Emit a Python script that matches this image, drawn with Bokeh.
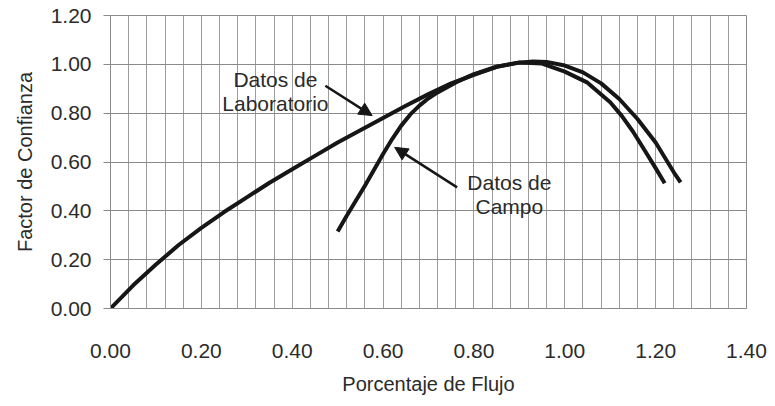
from bokeh.plotting import figure
from bokeh.models import FixedTicker, Range1d, Arrow, NormalHead, ColumnDataSource
from bokeh.core.properties import value
from bokeh.embed import file_html
from bokeh.resources import INLINE

# ---- data ----
lab_x = [0.00, 0.05, 0.10, 0.15, 0.20, 0.25, 0.30, 0.35, 0.40, 0.45, 0.50, 0.55,
         0.60, 0.65, 0.70, 0.75, 0.80, 0.85, 0.90, 0.95, 1.00, 1.05, 1.10, 1.125,
         1.15, 1.175, 1.20, 1.22]
lab_y = [0.00, 0.095, 0.18, 0.26, 0.33, 0.395, 0.455, 0.515, 0.57, 0.625, 0.68, 0.73,
         0.78, 0.83, 0.878, 0.922, 0.957, 0.99, 1.008, 1.003, 0.97, 0.925, 0.845, 0.79,
         0.725, 0.65, 0.575, 0.513]

campo_x = [0.50, 0.52, 0.56, 0.60, 0.62, 0.64, 0.66, 0.68, 0.70, 0.72, 0.76, 0.80,
           0.85, 0.90, 0.93, 0.96, 1.00, 1.04, 1.08, 1.12, 1.16, 1.20, 1.24, 1.255]
campo_y = [0.315, 0.38, 0.503, 0.633, 0.694, 0.749, 0.795, 0.831, 0.861, 0.885, 0.926, 0.96,
           0.99, 1.007, 1.012, 1.01, 0.995, 0.967, 0.922, 0.858, 0.776, 0.68, 0.558, 0.517]

x_ticks = [0.0, 0.2, 0.4, 0.6, 0.8, 1.0, 1.2, 1.4]
x_grid = [0.00, 0.04, 0.08, 0.12, 0.16, 0.20, 0.24, 0.28, 0.32, 0.36, 0.40, 0.44,
          0.48, 0.52, 0.56, 0.60, 0.64, 0.68, 0.72, 0.76, 0.80, 0.84, 0.88, 0.92,
          0.96, 1.00, 1.04, 1.08, 1.12, 1.16, 1.20, 1.24, 1.28, 1.32, 1.36, 1.40]
y_ticks = [0.0, 0.2, 0.4, 0.6, 0.8, 1.0, 1.2]

note_text = ["Datos de", "Laboratorio", "Datos de", "Campo"]
note_x = [0.363, 0.363, 0.878, 0.878]
note_y = [0.937, 0.839, 0.5155, 0.419]

arrow_x0 = [0.473, 0.763]
arrow_y0 = [0.912, 0.496]
arrow_x1 = [0.576, 0.6255]
arrow_y1 = [0.790, 0.660]

FONT = "Liberation Sans"
TXT = "#2b2b2b"
GRID = "#9c9c9c"
INK = "#161616"

p = figure(width=775, height=406,
           x_range=Range1d(0, 1.4), y_range=Range1d(0, 1.2),
           output_backend="svg", toolbar_location=None,
           min_border_left=110, min_border_right=29,
           min_border_top=15, min_border_bottom=98)

p.background_fill_color = "white"
p.border_fill_color = "white"
p.outline_line_color = "#8a8a8a"
p.outline_line_width = 1

# x axis
p.xaxis.ticker = FixedTicker(ticks=x_ticks, minor_ticks=x_grid)
p.xaxis.major_label_overrides = {t: f"{t:.2f}" for t in x_ticks}
p.xaxis.major_tick_out = 0
p.xaxis.major_tick_in = 0
p.xaxis.minor_tick_out = 0
p.xaxis.minor_tick_in = 0
p.xaxis.axis_line_color = "#8a8a8a"
p.xaxis.major_label_standoff = 35
p.xaxis.axis_label = "Porcentaje de Flujo"
p.xaxis.axis_label_standoff = 12

# y axis
p.yaxis.ticker = FixedTicker(ticks=y_ticks)
p.yaxis.major_label_overrides = {t: f"{t:.2f}" for t in y_ticks}
p.yaxis.major_tick_out = 7
p.yaxis.major_tick_in = 0
p.yaxis.minor_tick_out = 0
p.yaxis.minor_tick_in = 0
p.yaxis.major_tick_line_color = "#8a8a8a"
p.yaxis.axis_line_color = "#8a8a8a"
p.yaxis.major_label_standoff = 12
p.yaxis.axis_label = "Factor de Confianza"
p.yaxis.axis_label_standoff = 12

for ax in (p.xaxis, p.yaxis):
    ax.major_label_text_font = FONT
    ax.major_label_text_font_size = "21px"
    ax.major_label_text_color = TXT
    ax.axis_label_text_font = FONT
    ax.axis_label_text_font_size = "20px"
    ax.axis_label_text_font_style = "normal"
    ax.axis_label_text_color = TXT

# grids
p.xgrid.ticker = FixedTicker(ticks=x_ticks, minor_ticks=x_grid)
p.xgrid.grid_line_color = GRID
p.xgrid.minor_grid_line_color = GRID
p.xgrid.grid_line_width = 1
p.xgrid.minor_grid_line_width = 1
p.ygrid.ticker = FixedTicker(ticks=y_ticks)
p.ygrid.grid_line_color = "#8a8a8a"
p.ygrid.grid_line_width = 1

# curves
p.line(lab_x, lab_y, line_color=INK, line_width=4, line_join="round", line_cap="butt")
p.line(campo_x, campo_y, line_color=INK, line_width=4, line_join="round", line_cap="butt")

# annotations
src = ColumnDataSource(dict(x=note_x, y=note_y, t=note_text))
p.text(x="x", y="y", text="t", source=src,
       text_font=value(FONT), text_font_size="21px", text_color=TXT,
       text_align="center", text_baseline="middle")

for x0, y0, x1, y1 in zip(arrow_x0, arrow_y0, arrow_x1, arrow_y1):
    p.add_layout(Arrow(end=NormalHead(size=13, fill_color=INK, line_color=INK, line_width=1),
                       x_start=x0, y_start=y0, x_end=x1, y_end=y1,
                       line_color=INK, line_width=2.5))

open("out.html", "w").write(file_html(p, INLINE))
